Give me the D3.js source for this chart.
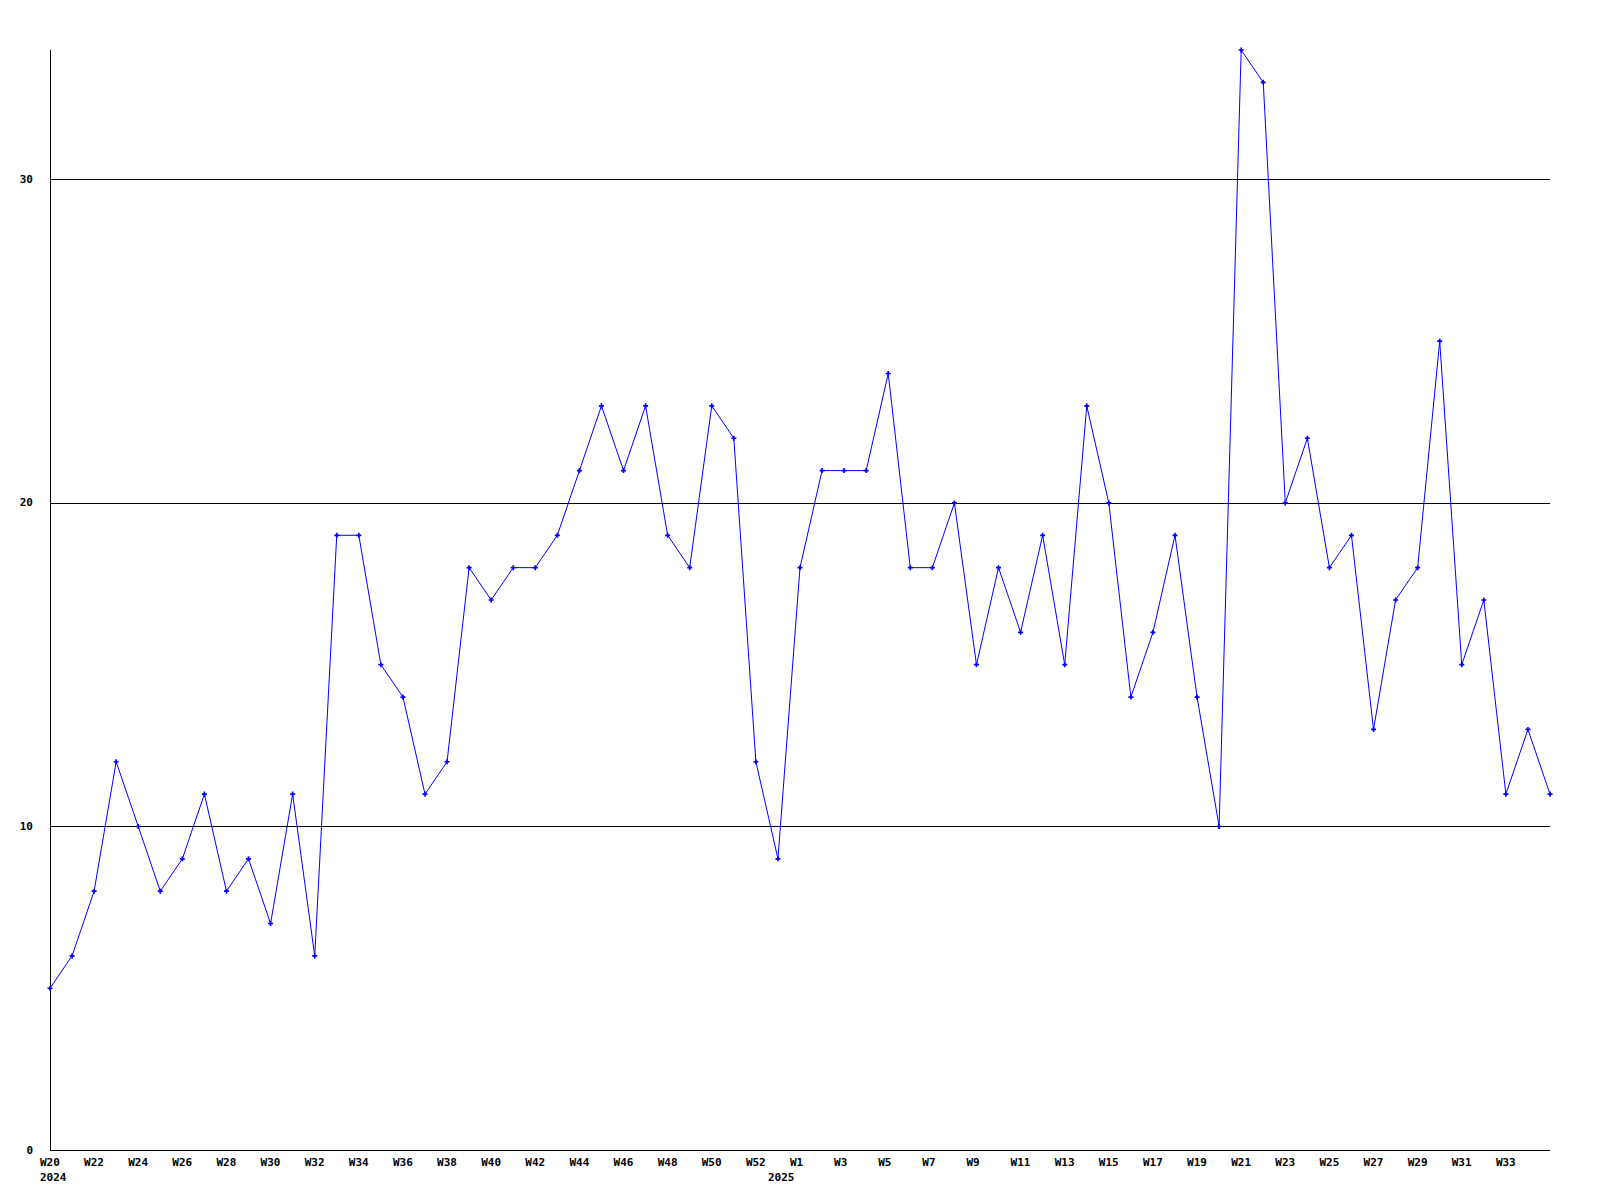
<!DOCTYPE html>
<html>
<head>
<meta charset="utf-8">
<script src="https://cdn.jsdelivr.net/npm/d3@7"></script>
<style>
  html, body { margin: 0; padding: 0; background: #fff; }
  svg { display: block; }
  text { font-family: "DejaVu Sans Mono", "Liberation Mono", monospace; font-weight: bold; font-size: 11px; fill: #000; }
</style>
</head>
<body>
<svg id="chart" width="1600" height="1200"></svg>
<script>
const weeks = [
  "W20","W21","W22","W23","W24","W25","W26","W27","W28","W29","W30","W31","W32","W33","W34","W35","W36",
  "W37","W38","W39","W40","W41","W42","W43","W44","W45","W46","W47","W48","W49","W50","W51","W52","W53",
  "W1","W2","W3","W4","W5","W6","W7","W8","W9","W10","W11","W12","W13","W14","W15","W16","W17","W18",
  "W19","W20","W21","W22","W23","W24","W25","W26","W27","W28","W29","W30","W31","W32","W33","W34","W35"
];
const values = [
  5,6,8,12,10,8,9,11,8,9,7,11,6,19,19,15,14,
  11,12,18,17,18,18,19,21,23,21,23,19,18,23,22,12,9,
  18,21,21,21,24,18,18,20,15,18,16,19,15,23,20,14,16,19,
  14,10,34,33,20,22,18,19,13,17,18,25,15,17,11,13,11
];
const yTicks = [0, 10, 20, 30];
const gridValues = [10, 20, 30];
const yearLabels = [{ label: "2024", index: 0 }, { label: "2025", index: 33 }];

(function () {
const svg = d3.select("#chart");
const mLeft = 50, mRight = 1550, mTop = 50, mBottom = 1150;

const x = d3.scaleLinear().domain([0, values.length - 1]).range([mLeft, mRight]);
const y = d3.scaleLinear().domain([0, 34]).range([mBottom, mTop]);

// grid lines
svg.append("g").selectAll("line").data(gridValues).join("line")
  .attr("x1", mLeft).attr("x2", mRight)
  .attr("y1", d => Math.round(y(d)) + 0.5).attr("y2", d => Math.round(y(d)) + 0.5)
  .attr("stroke", "#000").attr("stroke-width", 1).attr("shape-rendering", "crispEdges");

// axes lines
svg.append("line").attr("x1", mLeft + 0.5).attr("x2", mLeft + 0.5).attr("y1", mTop).attr("y2", mBottom + 0.5)
  .attr("stroke", "#000").attr("shape-rendering", "crispEdges");
svg.append("line").attr("x1", mLeft).attr("x2", mRight).attr("y1", mBottom + 0.5).attr("y2", mBottom + 0.5)
  .attr("stroke", "#000").attr("shape-rendering", "crispEdges");

// y labels
svg.append("g").selectAll("text").data(yTicks).join("text")
  .attr("x", 33).attr("y", d => y(d))
  .attr("text-anchor", "end").attr("dominant-baseline", "central")
  .text(d => d);

// x labels (every other week, last week unlabeled)
svg.append("g").selectAll("text")
  .data(weeks.map((w, i) => ({ w, i })).filter(d => d.i % 2 === 0 && d.i < weeks.length - 1)).join("text")
  .attr("x", d => x(d.i) - 10).attr("y", 1166)
  .attr("text-anchor", "start")
  .text(d => d.w);

// year labels
svg.append("g").selectAll("text").data(yearLabels).join("text")
  .attr("x", d => x(d.index) - 10).attr("y", 1181)
  .attr("text-anchor", "start")
  .text(d => d.label);

// line
const line = d3.line().x((d, i) => x(i)).y(d => y(d));
svg.append("path").datum(values)
  .attr("d", line)
  .attr("fill", "none").attr("stroke", "#0000ff").attr("stroke-width", 1);

// markers
svg.append("g").selectAll("path").data(values).join("path")
  .attr("transform", (d, i) => `translate(${x(i)},${y(d)})`)
  .attr("d", d3.symbol().type(d3.symbolCross).size(14))
  .attr("fill", "#0000ff");
})();
</script>
</body>
</html>
